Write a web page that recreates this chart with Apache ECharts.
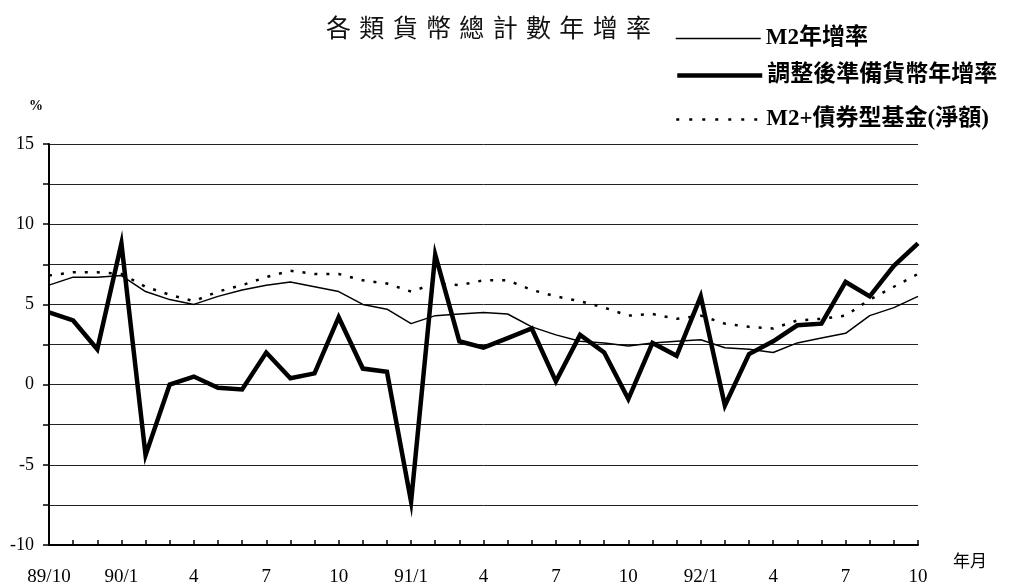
<!DOCTYPE html>
<html>
<head>
<meta charset="utf-8">
<script src="https://cdn.jsdelivr.net/npm/echarts@6/dist/echarts.min.js"></script>
<style>
  html, body { margin: 0; padding: 0; background: #fff; }
  #main { width: 1009px; height: 587px; }
</style>
</head>
<body>
<div id="main"></div>
<script>
// 89/10 ~ 92/10 monthly
const months = [
  '89/10', '11', '12', '90/1', '2', '3', '4', '5', '6', '7', '8', '9',
  '10', '11', '12', '91/1', '2', '3', '4', '5', '6', '7', '8', '9',
  '10', '11', '12', '92/1', '2', '3', '4', '5', '6', '7', '8', '9', '10'
]

// M2年增率
const m2Rate = [
  6.2, 6.7, 6.7, 6.8, 5.8, 5.3, 5.0, 5.5, 5.9, 6.2, 6.4, 6.1,
  5.8, 5.0, 4.7, 3.8, 4.3, 4.4, 4.5, 4.4, 3.6, 3.1, 2.7, 2.6,
  2.4, 2.6, 2.7, 2.8, 2.3, 2.2, 2.0, 2.6, 2.9, 3.2, 4.3, 4.8, 5.5
]
// 調整後準備貨幣年增率
const reserveRate = [
  4.5, 4.0, 2.2, 8.8, -4.4, 0.0, 0.5, -0.2, -0.3, 2.0, 0.4, 0.7,
  4.2, 1.0, 0.8, -7.3, 8.1, 2.7, 2.3, 2.9, 3.5, 0.2, 3.1, 2.0,
  -0.9, 2.6, 1.8, 5.5, -1.3, 1.9, 2.7, 3.7, 3.8, 6.4, 5.5, 7.4, 8.8
]
// M2+債券型基金(淨額)
const m2BondRate = [
  6.8, 7.0, 7.0, 6.9, 6.1, 5.6, 5.2, 5.8, 6.2, 6.7, 7.1, 6.9,
  6.9, 6.5, 6.3, 5.8, 6.3, 6.2, 6.5, 6.5, 5.9, 5.5, 5.2, 4.8,
  4.3, 4.4, 4.1, 4.3, 3.8, 3.6, 3.5, 4.0, 4.1, 4.3, 5.3, 6.1, 6.9
]

const serif = "'Liberation Serif', 'Noto Sans CJK TC', serif"
const cjk = "'Noto Sans CJK TC', sans-serif"
const titleText = '各類貨幣總計數年增率'.split('').join('\u2004')

const chart = echarts.init(document.getElementById('main'))

const legendBase = {
  padding: 0,
  left: 675,
  itemWidth: 85,
  itemHeight: 14,
  itemGap: 2,
  textStyle: {
    color: '#000',
    fontSize: 23,
    fontWeight: 'bold',
    fontFamily: serif,
    padding: [0, 0, 0, 0]
  },
  itemStyle: { opacity: 0 }
}

chart.setOption({
  animation: false,
  backgroundColor: '#fff',
  title: {
    text: titleText,
    left: 321,
    top: 10,
    textStyle: {
      fontSize: 25,
      fontWeight: 'normal',
      fontFamily: cjk,
      color: '#111'
    }
  },
  legend: [
    Object.assign({}, legendBase, {
      data: ['M2年增率'],
      top: 27,
      lineStyle: { width: 1.5, color: '#000' }
    }),
    Object.assign({}, legendBase, {
      data: ['調整後準備貨幣年增率'],
      top: 64,
      lineStyle: { width: 4.5, color: '#000' }
    }),
    Object.assign({}, legendBase, {
      data: ['M2+債券型基金(淨額)'],
      top: 108,
      lineStyle: { width: 2.5, color: '#000', type: [3, 10] }
    })
  ],
  graphic: [
    {
      type: 'text', left: 29, top: 99,
      style: { text: '%', fontSize: 14, fontWeight: 'bold', fontFamily: serif, fill: '#000' }
    },
    {
      type: 'text', left: 953, top: 552,
      style: { text: '年月', fontSize: 17, fontFamily: cjk, fill: '#000' }
    }
  ],
  grid: {
    left: 49,
    right: 91,
    top: 144,
    bottom: 41
  },
  xAxis: {
    type: 'category',
    data: months,
    boundaryGap: false,
    axisLine: { onZero: false, lineStyle: { color: '#000', width: 2 } },
    axisTick: { inside: true, length: 5, interval: 0, lineStyle: { color: '#000', width: 1.5 } },
    axisLabel: {
      interval: (i) => i % 3 === 0,
      color: '#000',
      fontSize: 19,
      fontFamily: serif,
      margin: 23
    },
    splitLine: { show: false }
  },
  yAxis: {
    type: 'value',
    min: -10,
    max: 15,
    interval: 2.5,
    axisLine: { show: true, lineStyle: { color: '#000', width: 2 } },
    axisTick: { show: true, length: 6, lineStyle: { color: '#000', width: 1.5 } },
    axisLabel: {
      color: '#000',
      fontSize: 18,
      fontFamily: serif,
      margin: 15,
      formatter: (v) => (v % 5 === 0 ? String(v) : '')
    },
    splitLine: { show: true, lineStyle: { color: '#222', width: 1 } }
  },
  series: [
    {
      name: 'M2年增率',
      type: 'line',
      data: m2Rate,
      symbol: 'none',
      lineStyle: { color: '#000', width: 1.5 },
      itemStyle: { color: '#000' },
      z: 3
    },
    {
      name: '調整後準備貨幣年增率',
      type: 'line',
      data: reserveRate,
      symbol: 'none',
      lineStyle: { color: '#000', width: 4.5, join: 'miter' },
      itemStyle: { color: '#000' },
      z: 4
    },
    {
      name: 'M2+債券型基金(淨額)',
      type: 'line',
      data: m2BondRate,
      symbol: 'none',
      lineStyle: { color: '#000', width: 2.5, type: [3, 9] },
      itemStyle: { color: '#000' },
      z: 2
    }
  ]
})
</script>
</body>
</html>
